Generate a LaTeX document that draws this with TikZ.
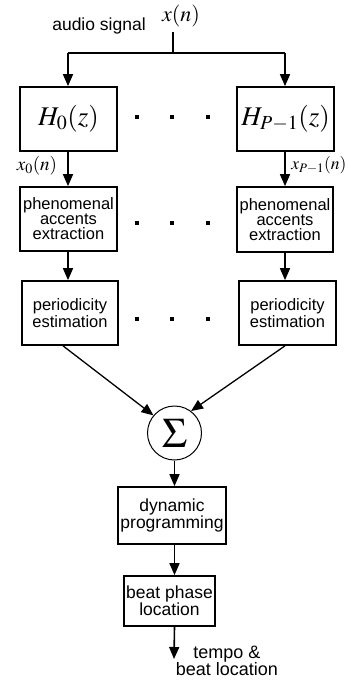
\documentclass[tikz,border=0pt]{standalone}
\usepackage{mathptmx}
\usepackage{fontspec}
\setmainfont{Liberation Sans}
\usetikzlibrary{arrows.meta}
\tikzset{
  blk/.style={draw, line width=1.7pt, minimum width=#1, align=center, inner sep=0pt, font=\fontsize{16.5}{15}\selectfont},
  arr/.style={line width=1.6pt, -{Triangle[length=12pt,width=10pt]}},
  ln/.style={line width=1.6pt},
  dot/.style={fill, inner sep=0pt, minimum size=3.5pt},
  lbl/.style={inner sep=0pt, font=\fontsize{17.5}{17}\selectfont}
}
\begin{document}
\begin{tikzpicture}[x=1pt,y=-1pt]
\useasboundingbox (0,0) rectangle (349,680);
% top
\node[inner sep=0pt, font=\fontsize{22}{22}\selectfont] (xn) at (181,16) {$x(n)$};
\node[lbl] (audio) at (99,26) {audio signal};
\coordinate (src) at (173,32);
\coordinate (br) at (173,53);
\coordinate (bl) at (68,53);
\coordinate (brr) at (285,53);
% boxes row 1
\node[blk=97pt, minimum height=64pt, font=\fontsize{27}{27}\selectfont] (H0) at (68.5,119) {$H_0(z)$};
\node[blk=97pt, minimum height=64pt, font=\fontsize{27}{27}\selectfont] (Hr) at (285.5,119) {$H_{P-1}(z)$};
% row 2
\node[blk=97pt, minimum height=64pt] (P0) at (68.5,219) {phenomenal\\accents\\extraction};
\node[blk=96pt, minimum height=65pt] (Pr) at (285,219.5) {phenomenal\\accents\\extraction};
% row 3
\node[blk=96pt, minimum height=64pt] (Q0) at (70,313) {periodicity\\estimation};
\node[blk=97pt, minimum height=64pt] (Qr) at (287.5,313) {periodicity\\estimation};
% sum
\node[draw, circle, line width=1pt, minimum size=54pt, inner sep=0pt, font=\fontsize{42}{42}\selectfont] (sig) at (174.5,433) {$\Sigma$};
% lower boxes
\node[blk=108pt, minimum height=57pt, font=\fontsize{17.5}{16}\selectfont] (D) at (172,515.5) {dynamic\\programming};
\node[blk=91pt, minimum height=50pt, font=\fontsize{17.5}{16}\selectfont] (B) at (169.5,601) {beat phase\\location};
\coordinate (out) at (174,659);
\node[inner sep=0pt, align=center, font=\fontsize{18}{17}\selectfont] (tempo) at (227,661) {tempo \&\\beat location};
% dots
\foreach \y/\n in {117/a,223/b,319/c}{
  \node[dot] (d1\n) at (137,\y) {};
  \node[dot] (d2\n) at (172,\y) {};
  \node[dot] (d3\n) at (208,\y) {};
}
% labels
\node[inner sep=0pt, font=\fontsize{19}{19}\selectfont] (x0) at (37,166) {$x_0(n)$};
\node[inner sep=0pt, font=\fontsize{17.5}{17.5}\selectfont] (xr) at (319,165) {$x_{P-1}(n)$};
% connectors
\draw[ln] (src) -- (br);
\draw[ln] (bl) -- (brr);
\draw[arr] (bl) -- (bl |- H0.north);
\draw[arr] (brr) -- (brr |- Hr.north);
\draw[arr] (bl |- H0.south) -- (bl |- P0.north);
\draw[arr] (brr |- Hr.south) -- (brr |- Pr.north);
\draw[arr] (bl |- P0.south) -- (bl |- Q0.north);
\draw[arr] (brr |- Pr.south) -- (brr |- Qr.north);
\draw[arr, line width=1.3pt] ([xshift=-7pt]Q0.south) -- (sig.140);
\draw[arr, line width=1.3pt] ([xshift=-2.5pt]Qr.south) -- (sig.53);
\draw[arr] (sig.south) -- (sig.south |- D.north);
\draw[arr] (sig.south |- D.south) -- (sig.south |- B.north);
\draw[arr] (sig.south |- B.south) -- (out);
\end{tikzpicture}
\end{document}
